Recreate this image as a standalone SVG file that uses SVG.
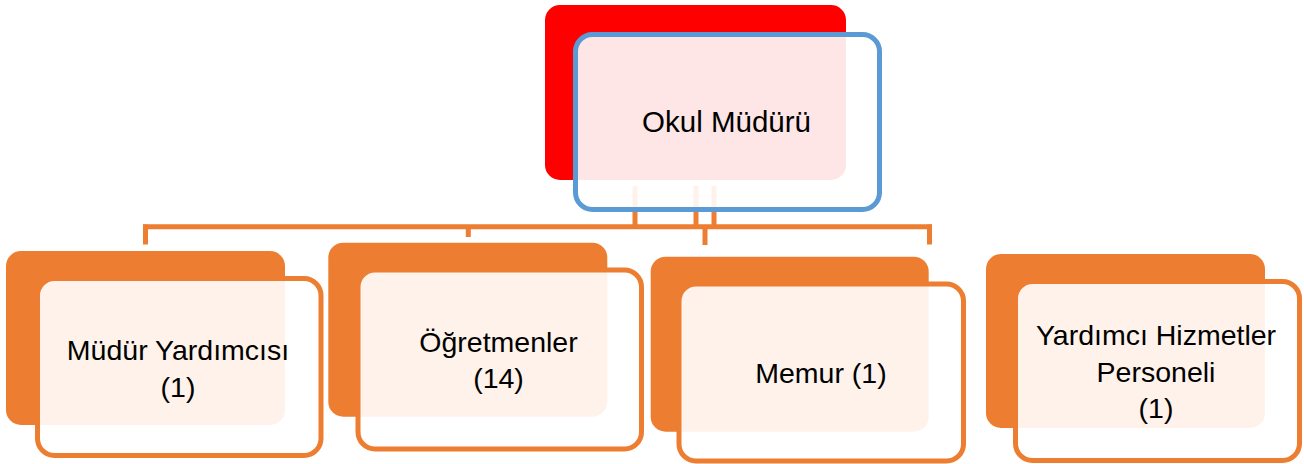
<svg xmlns="http://www.w3.org/2000/svg" width="1304" height="464" viewBox="0 0 1304 464">
  <style>
    .conn { stroke: #ED7D31; stroke-width: 5; fill: none; stroke-linecap: butt; }
    .back-o { fill: #ED7D31; }
    .back-r { fill: #FF0000; }
    .front { fill: #FFFFFF; fill-opacity: 0.9; stroke-width: 5; }
    .front-o { stroke: #ED7D31; }
    .front-b { stroke: #5B9BD5; }
    .lbl { font-family: "Liberation Sans", Arial, sans-serif; font-size: 28.5px; fill: #000000; text-anchor: middle; }
    .lbl-top { font-size: 29.5px; }
  </style>
  <rect width="1304" height="464" fill="#FFFFFF"/>

  <g id="connectors">
    <line class="conn" x1="635" y1="186" x2="635" y2="227"/>
    <line class="conn" x1="696" y1="186" x2="696" y2="227"/>
    <line class="conn" x1="714" y1="186" x2="714" y2="227"/>
    <line class="conn" x1="143" y1="226.7" x2="932" y2="226.7"/>
    <line class="conn" x1="145.5" y1="224.5" x2="145.5" y2="244.5"/>
    <line class="conn" x1="468.3" y1="226" x2="468.3" y2="237"/>
    <line class="conn" x1="705" y1="226" x2="705" y2="245"/>
    <line class="conn" x1="929.5" y1="224.5" x2="929.5" y2="244.5"/>
  </g>

  <g id="node-okul-muduru">
    <rect class="back-r" x="545" y="5" width="301" height="175" rx="15"/>
    <rect class="front front-b" x="575.5" y="34.5" width="304" height="175" rx="17"/>
    <text class="lbl lbl-top" x="726.5" y="131.5">Okul Müdürü</text>
  </g>

  <g id="node-mudur-yardimcisi">
    <rect class="back-o" x="6" y="251" width="279" height="174" rx="15"/>
    <rect class="front front-o" x="37.5" y="278.5" width="283.5" height="177" rx="17"/>
    <text class="lbl" x="178" y="360">Müdür Yardımcısı</text>
    <text class="lbl" x="178" y="396.5">(1)</text>
  </g>

  <g id="node-ogretmenler">
    <rect class="back-o" x="328.3" y="242.7" width="279" height="174" rx="15"/>
    <rect class="front front-o" x="358" y="270" width="283.5" height="179" rx="17"/>
    <text class="lbl" x="498.5" y="351.7">Öğretmenler</text>
    <text class="lbl" x="498.5" y="388">(14)</text>
  </g>

  <g id="node-memur">
    <rect class="back-o" x="650.7" y="256.7" width="278" height="175" rx="15"/>
    <rect class="front front-o" x="679" y="284" width="284.5" height="177" rx="17"/>
    <text class="lbl" x="821" y="383.3">Memur (1)</text>
  </g>

  <g id="node-yardimci-hizmetler">
    <rect class="back-o" x="986" y="254" width="279" height="174" rx="15"/>
    <rect class="front front-o" x="1015.5" y="281.5" width="284" height="179" rx="17"/>
    <text class="lbl" x="1156" y="345">Yardımcı Hizmetler</text>
    <text class="lbl" x="1156" y="381.5">Personeli</text>
    <text class="lbl" x="1156" y="417.5">(1)</text>
  </g>
</svg>
